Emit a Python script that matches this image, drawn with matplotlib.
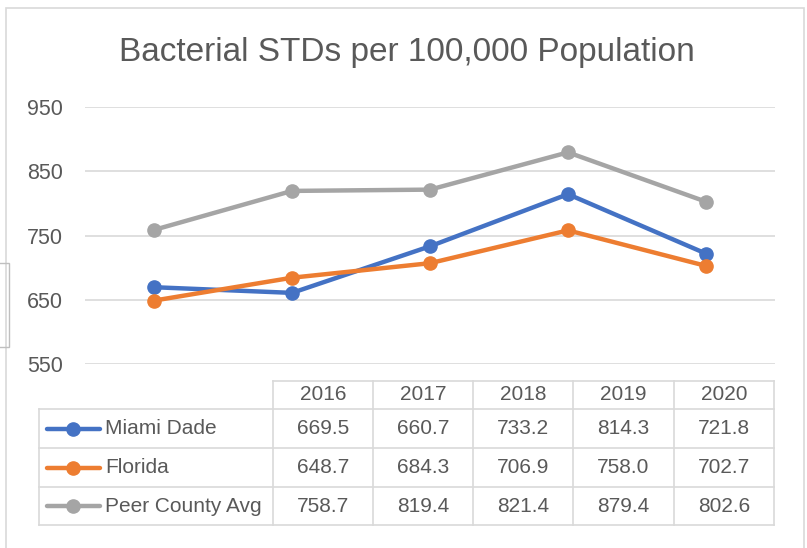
import matplotlib.pyplot as plt
from matplotlib.patches import Rectangle
from matplotlib.lines import Line2D

years = ['2016', '2017', '2018', '2019', '2020']
series_names = ['Miami Dade', 'Florida', 'Peer County Avg']
miami_dade = [669.5, 660.7, 733.2, 814.3, 721.8]
florida = [648.7, 684.3, 706.9, 758.0, 702.7]
peer_avg = [758.7, 819.4, 821.4, 879.4, 802.6]
y_ticks = [550, 650, 750, 850, 950]

colors = ['#4472C4', '#ED7D31', '#A5A5A5']
text_col = '#595959'
grid_col = '#D9D9D9'

W, H = 807, 548
plt.rcParams['font.family'] = ['Liberation Sans', 'DejaVu Sans']

fig = plt.figure(figsize=(W / 100, H / 100), dpi=100)
fig.patch.set_facecolor('white')


def fx(px):
    return px / W


def fy(py):
    return 1 - py / H


# outer chart border and the cut-off neighbour box on the left
fig.add_artist(Rectangle((fx(6), fy(560)), fx(798), 552 / H, fill=False,
                         ec=grid_col, lw=1.2, transform=fig.transFigure))
fig.add_artist(Rectangle((fx(-2), fy(347)), fx(11), 84 / H, fill=False,
                         ec='#BFBFBF', lw=1.0, transform=fig.transFigure))

ax = fig.add_axes([fx(85), fy(364), fx(690), 257 / H])
x = list(range(len(years)))
for vals, c in zip([miami_dade, florida, peer_avg], colors):
    ax.plot(x, vals, color=c, lw=3.2, marker='o', ms=9.5, zorder=3,
            solid_capstyle='round')
ax.set_xlim(-0.5, len(years) - 0.5)
ax.set_ylim(550, 950)
ax.set_yticks(y_ticks)
ax.set_xticks([])
ax.grid(axis='y', color=grid_col, lw=1.2)
for s in ax.spines.values():
    s.set_visible(False)
ax.tick_params(axis='y', length=0, pad=16, labelsize=15.5, labelcolor=text_col)
ax.set_facecolor('none')

fig.text(fx(407), fy(52), 'Bacterial STDs per 100,000 Population',
         ha='center', va='center', fontsize=24, color=text_col)

# data table
col_edges = [273, 373, 473, 573, 674, 774]
row_edges = [381, 409, 448, 487, 525]
left_edge = 39


def hline(x0, x1, y):
    fig.add_artist(Line2D([fx(x0), fx(x1)], [fy(y), fy(y)], color=grid_col,
                          lw=1.2, transform=fig.transFigure))


def vline(xp, y0, y1):
    fig.add_artist(Line2D([fx(xp), fx(xp)], [fy(y0), fy(y1)], color=grid_col,
                          lw=1.2, transform=fig.transFigure))


hline(col_edges[0], col_edges[-1], row_edges[0])
for yy in row_edges[1:]:
    hline(left_edge, col_edges[-1], yy)
vline(left_edge, row_edges[1], row_edges[-1])
for xx in col_edges:
    vline(xx, row_edges[0], row_edges[-1])

for i, yr in enumerate(years):
    cx = (col_edges[i] + col_edges[i + 1]) / 2
    cy = (row_edges[0] + row_edges[1]) / 2
    fig.text(fx(cx), fy(cy), yr, ha='center', va='center', fontsize=15,
             color=text_col)

for r, (name, vals, c) in enumerate(zip(series_names,
                                        [miami_dade, florida, peer_avg],
                                        colors)):
    cy = (row_edges[r + 1] + row_edges[r + 2]) / 2
    fig.add_artist(Line2D([fx(47), fx(100)], [fy(cy), fy(cy)], color=c, lw=3.2,
                          solid_capstyle='round', transform=fig.transFigure))
    fig.add_artist(Line2D([fx(73)], [fy(cy)], color=c, marker='o', ms=9.5,
                          transform=fig.transFigure))
    fig.text(fx(105), fy(cy), name, ha='left', va='center', fontsize=15,
             color=text_col)
    for i, v in enumerate(vals):
        cx = (col_edges[i] + col_edges[i + 1]) / 2
        fig.text(fx(cx), fy(cy), f'{v:.1f}', ha='center', va='center',
                 fontsize=15, color=text_col)

fig.savefig('out.png', dpi=100, facecolor='white')
